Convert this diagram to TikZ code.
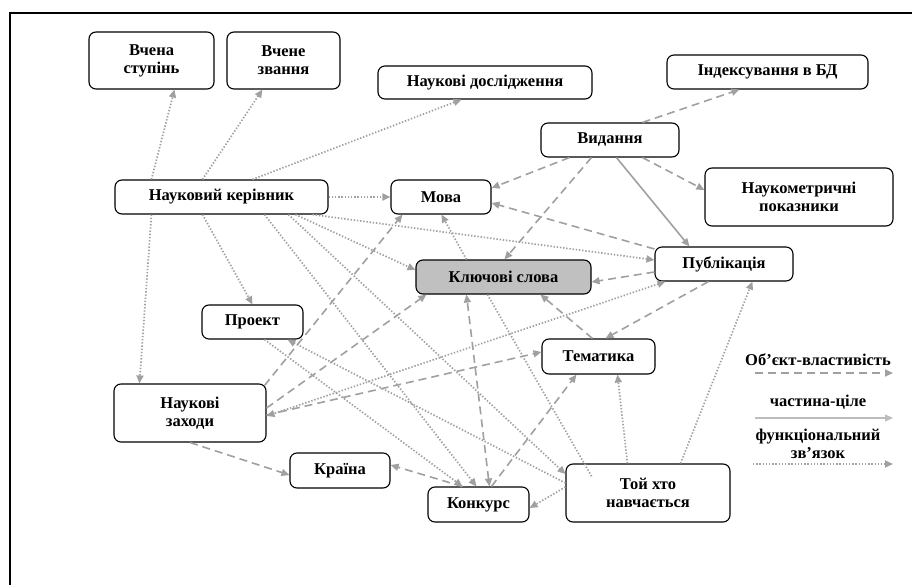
\documentclass[tikz,border=0pt]{standalone}
\usepackage{fontspec}
\setmainfont{Liberation Serif}
\usetikzlibrary{arrows.meta,calc}
\definecolor{lgray}{HTML}{A0A0A0}
\definecolor{kfill}{HTML}{C0C0C0}
\begin{document}
\begin{tikzpicture}[x=1pt,y=-1pt,
  box/.style={draw=black, line width=1.1pt, rounded corners=7pt, fill=white, align=center, inner sep=0pt, font=\fontsize{16.5}{18}\selectfont\bfseries},
  lbl/.style={align=center, inner sep=0pt, font=\fontsize{16.5}{18}\selectfont\bfseries},
  tip/.style={-{Triangle[length=8pt,width=7pt]}},
  objprop/.style={draw=lgray, line width=1.6pt, dash pattern=on 8pt off 5pt, tip},
  partwhole/.style={draw=lgray, line width=1.6pt, tip},
  func/.style={draw=lgray, line width=1.7pt, dash pattern=on 1.4pt off 1.8pt, tip},
]
\useasboundingbox (0,0) rectangle (912,585);
\draw[line width=1.3pt] (10,13) rectangle (930,600);

% nodes
\node[box, minimum width=125pt, minimum height=57pt] (vst) at (151.5,60.5) {Вчена\\ступінь};
\node[box, minimum width=113pt, minimum height=57pt] (vzv) at (283.5,60.5) {Вчене\\звання};
\node[box, minimum width=214pt, minimum height=33pt] (nd) at (485,82.5) {Наукові дослідження};
\node[box, minimum width=201pt, minimum height=34pt] (ibd) at (767.5,72) {Індексування в БД};
\node[box, minimum width=138pt, minimum height=34pt] (vyd) at (610,140) {Видання};
\node[box, minimum width=188pt, minimum height=58pt] (nkp) at (799,197) {Наукометричні\\показники};
\node[box, minimum width=213pt, minimum height=34pt] (nk) at (221.5,197) {Науковий керівник};
\node[box, minimum width=100pt, minimum height=34pt] (mova) at (441,197) {Мова};
\node[box, minimum width=175pt, minimum height=34pt, fill=kfill] (ks) at (503.5,277) {Ключові слова};
\node[box, minimum width=138pt, minimum height=34pt] (pub) at (724,264) {Публікація};
\node[box, minimum width=101pt, minimum height=34pt] (proj) at (252.5,322) {Проект};
\node[box, minimum width=113pt, minimum height=35pt] (tem) at (598.5,356.5) {Тематика};
\node[box, minimum width=152pt, minimum height=58pt] (nz) at (190,413) {Наукові\\заходи};
\node[box, minimum width=100pt, minimum height=35pt] (kr) at (340,470.5) {Країна};
\node[box, minimum width=101pt, minimum height=35pt] (kon) at (478.5,504.5) {Конкурс};
\node[box, minimum width=164pt, minimum height=58pt] (txn) at (648,493) {Той хто\\навчається};

% functional (dotted)
\draw[func] ([xshift=37pt]nk.north west) -- ([xshift=86pt]vst.south west);
\draw[func] ([xshift=88pt]nk.north west) -- ([xshift=36pt]vzv.south west);
\draw[func] ([xshift=138pt]nk.north west) -- ([xshift=84pt]nd.south west);
\draw[func] (nk.east) -- (mova.west);
\draw[func] ([xshift=181pt]nk.south west) -- ([yshift=7pt]ks.west);
\draw[func] ([xshift=198pt]nk.south west) -- ([yshift=4pt]pub.west);
\draw[func] ([xshift=88pt]nk.south west) -- (proj.north);
\draw[func] ([xshift=37pt]nk.south west) -- ([xshift=26pt]nz.north west);
\draw[func] ([xshift=150pt]nk.south west) -- ([xshift=49pt]kon.north west);
\draw[func] ([xshift=174pt]nk.south west) -- ([yshift=19pt]txn.west);
\draw[func] ([xshift=63pt]proj.south west) -- ([xshift=35pt]kon.north west);
\draw[func] ([yshift=10pt]txn.west) -- ([xshift=86pt]proj.south west);
\draw[func] ([yshift=6pt]txn.west) -- ([yshift=-3.5pt]kon.east);
\draw[func] ([xshift=62pt]txn.north west) -- ([xshift=76pt]tem.south west);
\draw[func] ([xshift=115pt]txn.north west) -- ([xshift=98pt]pub.south west);
\coordinate (kse) at (592,477);
\draw[func,-] ([xshift=72pt]ks.south west) -- (kse);
\draw[func] ([xshift=51pt]ks.north west) -- ([xshift=51pt]mova.south west);
\draw[func,{Triangle[length=8pt,width=7pt]}-{Triangle[length=8pt,width=7pt]}] ([xshift=11pt]pub.south west) -- ([yshift=-3pt]nz.east);

% object-property (dashed)
\draw[objprop] ([xshift=102pt]vyd.north west) -- ([xshift=73pt]ibd.south west);
\draw[objprop] ([xshift=29pt]vyd.south west) -- ([yshift=9pt]mova.east);
\draw[objprop] ([xshift=51pt]vyd.south west) -- ([xshift=89pt]ks.north west);
\draw[objprop] ([xshift=102pt]vyd.south west) -- ([yshift=7pt]nkp.west);
\draw[objprop] ([yshift=15pt]pub.west) -- ([yshift=-6pt]mova.east);
\draw[objprop] ([yshift=-8pt]pub.west) -- ([yshift=-5pt]ks.east);
\draw[objprop] ([xshift=54pt]pub.south west) -- ([xshift=64pt]tem.north west);
\draw[objprop] ([xshift=51pt]tem.north west) -- ([xshift=125pt]ks.south west);
\draw[objprop] ([xshift=-2pt,yshift=-2pt]nz.north east) -- ([xshift=12pt]mova.south west);
\draw[objprop] ([yshift=5pt]nz.east) -- ([xshift=11pt]ks.south west);
\draw[objprop] ([yshift=-2pt]nz.east) -- ([yshift=4.5pt]tem.west);
\draw[objprop] (nz.south) -- ([yshift=-4.5pt]kr.west);
\draw[objprop] ([xshift=35pt]kon.north west) -- ([yshift=5.5pt]kr.east);
\draw[objprop,{Triangle[length=8pt,width=7pt]}-{Triangle[length=8pt,width=7pt]}] ([xshift=62pt]kon.north west) -- ([xshift=51pt]ks.south west);
\draw[objprop] ([xshift=64pt]kon.north west) -- ([xshift=35pt]tem.south west);

% part-whole (solid)
\draw[partwhole] ([xshift=76pt]vyd.south west) -- ([xshift=35pt]pub.north west);

% legend
\node[lbl] (l1) at (818,360) {Об’єкт-властивість};
\coordinate (l1a) at (755,373); \coordinate (l1b) at (893,373);
\draw[objprop] (l1a) -- (l1b);
\node[lbl] (l2) at (818,402) {частина-ціле};
\coordinate (l2a) at (755,418); \coordinate (l2b) at (893,418);
\draw[partwhole, draw=lgray!70, line width=1.2pt] (l2a) -- (l2b);
\node[lbl] (l3) at (818,443.5) {функціональний\\зв’язок};
\coordinate (l3a) at (753,464); \coordinate (l3b) at (893,464);
\draw[func] (l3a) -- (l3b);
\end{tikzpicture}
\end{document}
